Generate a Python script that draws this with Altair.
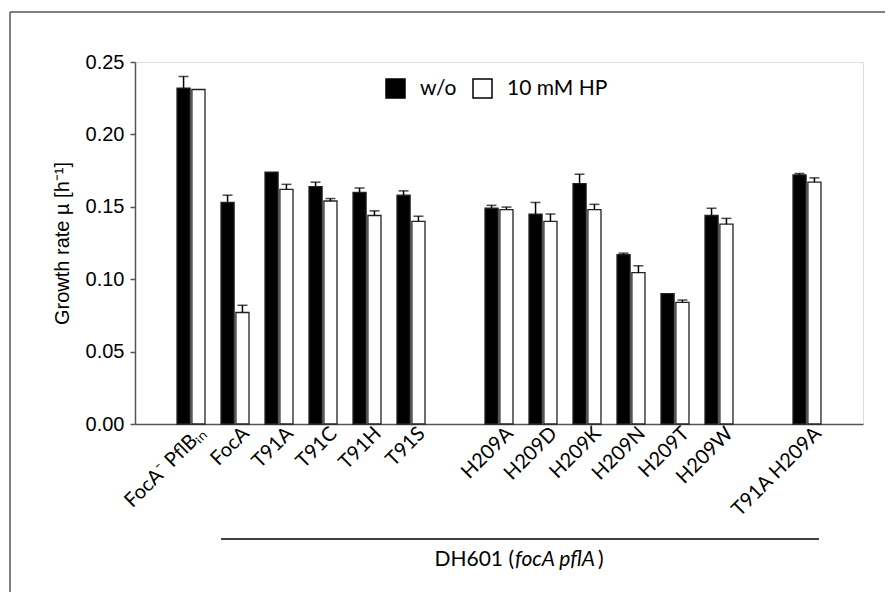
import altair as alt
import pandas as pd

strains = ["FocA⁻ PflBᵢₙ", "FocA", "T91A", "T91C", "T91H", "T91S",
           "H209A", "H209D", "H209K", "H209N", "H209T", "H209W", "T91A H209A"]
conds = ["w/o", "10 mM HP"]
wo_vals = [0.232, 0.153, 0.174, 0.164, 0.160, 0.158, 0.149, 0.145, 0.166, 0.117, 0.090, 0.144, 0.172]
wo_err = [0.008, 0.005, 0.0, 0.003, 0.003, 0.003, 0.002, 0.008, 0.0065, 0.001, 0.0, 0.005, 0.001]
hp_vals = [0.231, 0.077, 0.162, 0.154, 0.144, 0.140, 0.148, 0.140, 0.148, 0.1045, 0.084, 0.138, 0.167]
hp_err = [0.0, 0.005, 0.0035, 0.0017, 0.0032, 0.0035, 0.0018, 0.005, 0.0037, 0.0048, 0.0016, 0.004, 0.003]
y_ticks = [0.0, 0.05, 0.10, 0.15, 0.20, 0.25]

x_domain = strains[:6] + ["gap1"] + strains[6:12] + ["gap2"] + strains[12:]

rows = []
for i, s in enumerate(strains):
    rows.append({"strain": s, "cond": conds[0], "value": wo_vals[i], "err": wo_err[i]})
    rows.append({"strain": s, "cond": conds[1], "value": hp_vals[i], "err": hp_err[i]})
df = pd.DataFrame(rows)
df["top"] = df["value"] + df["err"]

W, H = 728, 362
GRAY = "#555555"

x_enc = alt.X("strain:N",
              scale=alt.Scale(domain=x_domain, paddingInner=0.364, paddingOuter=0.955),
              axis=alt.Axis(title=None, labelAngle=-45, labelAlign="right", labelBaseline="middle",
                            labelExpr="indexof(datum.value, 'gap') == 0 ? '' : datum.value",
                            ticks=False, labelFont="Lato", labelFontSize=20, labelColor="black",
                            labelPadding=6, labelOffset=11, domainColor=GRAY, domainWidth=1.5,
                            labelOverlap=False))
xo_enc = alt.XOffset("cond:N", scale=alt.Scale(domain=conds, paddingInner=0.12))
y_scale = alt.Scale(domain=[0, 0.25], nice=False)

base = alt.Chart(df).encode(x=x_enc, xOffset=xo_enc)

bars = base.mark_bar(stroke="#222222", strokeWidth=1.3).encode(
    y=alt.Y("value:Q", scale=y_scale,
            axis=alt.Axis(title="Growth rate µ [h⁻¹]", values=y_ticks, format=".2f",
                          grid=False, tickSize=5, tickColor=GRAY, tickWidth=1.5,
                          domainColor=GRAY, domainWidth=1.5,
                          labelFont="Liberation Sans", labelFontSize=20, labelColor="black",
                          labelPadding=6, titleFont="Liberation Sans", titleFontSize=20,
                          titleFontWeight="normal", titleColor="black", titlePadding=13)),
    fill=alt.Color("cond:N", scale=alt.Scale(domain=conds, range=["black", "white"]),
                   legend=alt.Legend(title=None, orient="none", legendX=250, legendY=16,
                                     direction="horizontal", symbolType="square",
                                     symbolSize=361, symbolStrokeColor="black",
                                     symbolStrokeWidth=1.5, labelFont="Lato",
                                     labelFontSize=21, labelColor="black",
                                     columnPadding=13, labelOffset=14)),
)

errs = base.transform_filter("datum.err > 0")
err_rule = errs.mark_rule(color="black", strokeWidth=1.5).encode(
    y=alt.Y("value:Q", scale=y_scale), y2="top:Q")
err_cap = errs.mark_tick(color="black", thickness=1.5, size=10).encode(
    y=alt.Y("top:Q", scale=y_scale))

one = alt.Chart(pd.DataFrame({"k": [0]}))
outer_left = one.mark_rule(color=GRAY, strokeWidth=1.5).encode(
    x=alt.value(-125), y=alt.value(-50), y2=alt.value(540))
outer_top = one.mark_rule(color=GRAY, strokeWidth=1.5).encode(
    x=alt.value(-125), x2=alt.value(760), y=alt.value(-50))
group_line = one.mark_rule(color="black", strokeWidth=1.5).encode(
    x=alt.value(86), x2=alt.value(684), y=alt.value(477))
t1 = one.mark_text(font="Lato", fontSize=21, align="right", baseline="middle", color="black").encode(
    x=alt.value(379), y=alt.value(498), text=alt.value("DH601 ("))
t2 = one.mark_text(font="Lato", fontSize=21, fontStyle="italic", align="left", baseline="middle", color="black").encode(
    x=alt.value(380), y=alt.value(498), text=alt.value("focA pflA"))
t3 = one.mark_text(font="Lato", fontSize=21, align="left", baseline="middle", color="black").encode(
    x=alt.value(463), y=alt.value(498), text=alt.value(")"))

chart = alt.layer(bars, err_rule, err_cap, outer_left, outer_top, group_line, t1, t2, t3).properties(
    width=W, height=H,
    autosize=alt.AutoSizeParams(type="none"),
    padding={"left": 127, "top": 54, "right": 22, "bottom": 168},
).configure_view(stroke=GRAY, strokeWidth=1.5).configure(background="white")

chart.save("out.html", embed_options={"renderer": "svg", "actions": False})
